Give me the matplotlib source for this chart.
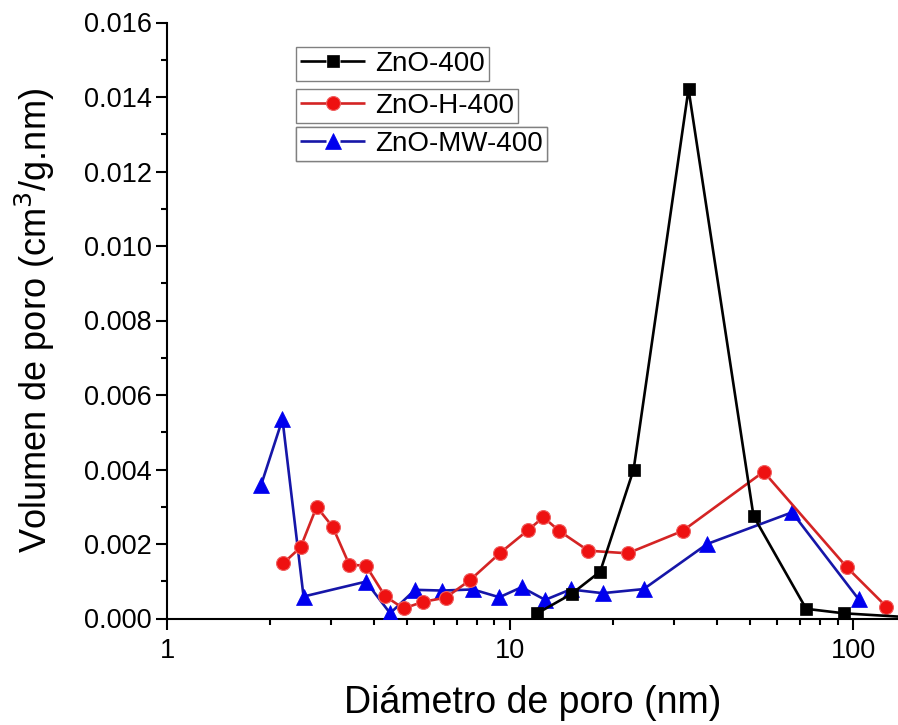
import matplotlib
matplotlib.use("Agg")
import matplotlib.pyplot as plt
from matplotlib.lines import Line2D
from matplotlib.legend_handler import HandlerBase
from matplotlib.ticker import FixedLocator, LogLocator, MultipleLocator, FormatStrFormatter, NullFormatter

plt.rcParams['font.family'] = ['Liberation Sans', 'DejaVu Sans']

# Pore size distributions (diameter in nm, volume in cm3/g.nm)
zno_d = [12.0, 15.1, 18.3, 22.9, 33.1, 51.2, 72.9, 93.7, 160.0]
zno_v = [0.00014, 0.00066, 0.00126, 0.0040, 0.01421, 0.00275, 0.00026, 0.00014, 0.00001]

znoh_d = [2.18, 2.45, 2.73, 3.04, 3.40, 3.80, 4.32, 4.89, 5.59, 6.49, 7.64, 9.35,
          11.3, 12.5, 13.9, 16.9, 22.0, 31.8, 54.8, 95.9, 124.8]
znoh_v = [0.00148, 0.00191, 0.00300, 0.00246, 0.00144, 0.00142, 0.00060, 0.00027,
          0.00045, 0.00056, 0.00103, 0.00176, 0.00238, 0.00272, 0.00235, 0.00182,
          0.00175, 0.00235, 0.00394, 0.00137, 0.00032]

znomw_d = [1.88, 2.17, 2.50, 3.80, 4.47, 5.28, 6.35, 7.79, 9.30, 10.8, 12.65, 15.0,
           18.6, 24.5, 37.5, 66.3, 103.6]
znomw_v = [0.00358, 0.00535, 0.00059, 0.00099, 0.00014, 0.00077, 0.00075, 0.00078,
           0.00057, 0.00084, 0.00050, 0.00078, 0.00068, 0.00079, 0.00200, 0.00285,
           0.00052]

labels = ['ZnO-400', 'ZnO-H-400', 'ZnO-MW-400']
x_ticks = [1, 10, 100]
x_tick_labels = ['1', '10', '100']


class GappedLineHandler(HandlerBase):
    """Legend key drawn as line - marker - line with small gaps around the marker."""

    def create_artists(self, legend, orig_handle, xdescent, ydescent, width, height,
                       fontsize, trans):
        y = height / 2 - ydescent
        x0 = -xdescent
        x1 = x0 + width
        xm = x0 + width / 2
        gap = 0.11 * width
        line_kw = dict(color=orig_handle.get_color(), lw=orig_handle.get_linewidth(),
                       solid_capstyle='butt')
        left = Line2D([x0, xm - gap], [y, y], **line_kw)
        right = Line2D([xm + gap, x1], [y, y], **line_kw)
        mark = Line2D([xm], [y], linestyle='none', marker=orig_handle.get_marker(),
                      ms=orig_handle.get_markersize(),
                      mfc=orig_handle.get_markerfacecolor(),
                      mec=orig_handle.get_markeredgecolor(),
                      mew=orig_handle.get_markeredgewidth())
        for art in (left, right, mark):
            art.set_transform(trans)
        return [left, right, mark]


W, H = 898, 725
fig = plt.figure(figsize=(W / 100, H / 100), dpi=100)
ax = fig.add_axes([167 / W, (H - 618.5) / H, (W - 167) / W, (618.5 - 22.5) / H])

blue_line, blue_face = '#1616A8', '#0000EE'
red_line, red_face = '#D42424', '#EE1111'

styles = [
    dict(color='black', marker='s', ms=8.8, mfc='black', mec='black', mew=0.5),
    dict(color=red_line, marker='o', ms=10, mfc=red_face, mec='#F06060', mew=0.8),
    dict(color=blue_line, marker='^', ms=11, mfc=blue_face, mec=blue_face, mew=0.5),
]

ax.plot(znomw_d, znomw_v, lw=1.9, zorder=3, **styles[2])
ax.plot(znoh_d, znoh_v, lw=1.9, zorder=4, **styles[1])
ax.plot(zno_d, zno_v, lw=1.9, zorder=5, **styles[0])

ax.set_xscale('log')
ax.set_xlim(1, 135)
ax.set_ylim(0, 0.016)

for side in ('top', 'right'):
    ax.spines[side].set_visible(False)
for side in ('left', 'bottom'):
    ax.spines[side].set_linewidth(1.5)

ax.xaxis.set_major_locator(FixedLocator(x_ticks))
ax.set_xticklabels(x_tick_labels)
ax.xaxis.set_minor_locator(LogLocator(base=10, subs=range(2, 10)))
ax.xaxis.set_minor_formatter(NullFormatter())
ax.yaxis.set_major_locator(MultipleLocator(0.002))
ax.yaxis.set_minor_locator(MultipleLocator(0.001))
ax.yaxis.set_major_formatter(FormatStrFormatter('%.3f'))

ax.tick_params(which='major', direction='out', length=8, width=1.5, labelsize=19.5)
ax.tick_params(which='minor', direction='out', length=4.5, width=1.5)
ax.tick_params(axis='x', which='major', pad=6)
ax.tick_params(axis='y', which='major', pad=3)

ax.set_xlabel('Diámetro de poro (nm)', fontsize=27, labelpad=15)
ax.set_ylabel('Volumen de poro (cm$^3$/g.nm)', fontsize=26, labelpad=19)

# Three separately framed legend entries
tops = [47, 89, 127]
for lab, st, top in zip(labels, styles, tops):
    h = Line2D([], [], lw=1.9, **st)
    leg = ax.legend([h], [lab], loc='upper left',
                    bbox_to_anchor=(296 / W, 1 - top / H), bbox_transform=fig.transFigure,
                    fontsize=20, frameon=True, fancybox=False, framealpha=1,
                    edgecolor='#808080', borderpad=0.15, borderaxespad=0,
                    handlelength=2.35, handletextpad=0.35, numpoints=1,
                    handler_map={Line2D: GappedLineHandler()})
    leg.get_frame().set_linewidth(1.0)
    ax.add_artist(leg)

fig.savefig('out.png', dpi=100)
